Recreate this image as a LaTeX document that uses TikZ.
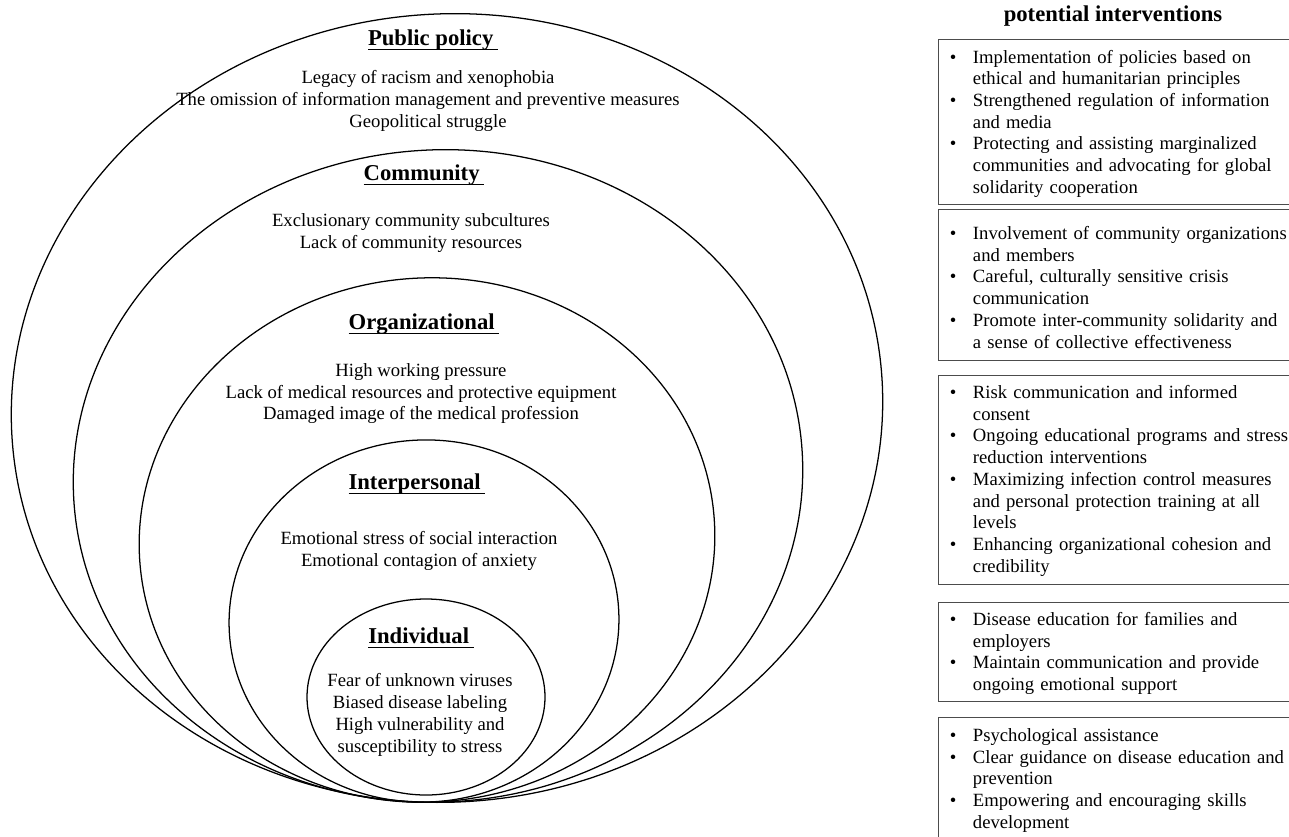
\documentclass[tikz,border=0pt]{standalone}
\usepackage{fontspec}
\setmainfont{Liberation Serif}
\usetikzlibrary{positioning}
\tikzset{
    x=0.75pt, y=-0.75pt,
    ring/.style = {draw, line width=0.95pt},
    head/.style = {font=\fontsize{17}{20}\selectfont\bfseries, inner sep=0pt, anchor=base},
    body/.style = {font=\fontsize{14}{16.4}\selectfont, align=center, inner sep=0pt, anchor=north},
    box/.style = {draw=black!70, line width=1.1pt, minimum width=271.5pt, anchor=north west, inner sep=0pt},
    boxtext/.style = {font=\fontsize{14}{16.3}\selectfont, text width=262pt, align=left, inner sep=0pt, anchor=north west}
}
\newcommand{\lvl}[1]{\setbox0\hbox{#1\hspace{3.5pt}}\rlap{\rule[-3.9pt]{\wd0}{0.95pt}}\box0}
\newcommand{\bitem}[1]{\par\hangindent=17.4pt\hangafter=1\noindent\makebox[17.4pt][l]{\textbullet}#1\par}

\begin{document}
\begin{tikzpicture}
    \useasboundingbox (0,0) rectangle (1289,836);
    \clip (0,0) rectangle (1289,836);

    % nested levels
    \draw[ring, rotate around={5:(447,408)}] (447,408) ellipse [x radius=436, y radius=394];
    \draw[ring, rotate around={5:(438,476)}] (438,476) ellipse [x radius=365, y radius=326];
    \draw[ring, rotate around={5:(427,540)}] (427,540) ellipse [x radius=288, y radius=262];
    \draw[ring, rotate around={4:(424,621)}] (424,621) ellipse [x radius=195, y radius=181];
    \draw[ring] (426,697) ellipse [x radius=119, y radius=98];

    \node[head] (hpol) at (433,45) {\lvl{Public policy}};
    \node[body] (tpol) at (428,70.5) {Legacy of racism and xenophobia\\The omission of information management and preventive measures\\Geopolitical struggle};
    \node[head] (hcom) at (424,180) {\lvl{Community}};
    \node[body] (tcom) at (411,213) {Exclusionary community subcultures\\Lack of community resources};
    \node[head] (horg) at (424,329) {\lvl{Organizational}};
    \node[body] (torg) at (421,363) {High working pressure\\Lack of medical resources and protective equipment\\Damaged image of the medical profession};
    \node[head] (hint) at (417,489) {\lvl{Interpersonal}};
    \node[body] (tint) at (419,531) {Emotional stress of social interaction\\Emotional contagion of anxiety};
    \node[head] (hind) at (421,643) {\lvl{Individual}};
    \node[body] (tind) at (420,673) {Fear of unknown viruses\\Biased disease labeling\\High vulnerability and\\susceptibility to stress};

    % interventions
    \node[head] (htit) at (1113,21) {potential interventions};

    \node[box, minimum height=123.75pt] (b1) at (938,39) {};
    \node[box, minimum height=113.25pt] (b2) at (938,209) {};
    \node[box, minimum height=156.75pt] (b3) at (938,375) {};
    \node[box, minimum height=74.25pt] (b4) at (938,602) {};
    \node[box, minimum height=107.25pt] (b5) at (938,717) {};

    \node[boxtext] (t1) at ([shift={(11.5,2)}]b1.north west) {%
        \bitem{Implementation of policies based on\newline ethical and humanitarian principles}
        \bitem{Strengthened regulation of information\newline and media}
        \bitem{Protecting and assisting marginalized\newline communities and advocating for global\newline solidarity cooperation}};
    \node[boxtext] (t2) at ([shift={(11.5,8.5)}]b2.north west) {%
        \bitem{Involvement of community organizations\newline and members}
        \bitem{Careful, culturally sensitive crisis\newline communication}
        \bitem{Promote inter-community solidarity and\newline a sense of collective effectiveness}};
    \node[boxtext] (t3) at ([shift={(11.5,1.5)}]b3.north west) {%
        \bitem{Risk communication and informed\newline consent}
        \bitem{Ongoing educational programs and stress\newline reduction interventions}
        \bitem{Maximizing infection control measures\newline and personal protection training at all\newline levels}
        \bitem{Enhancing organizational cohesion and\newline credibility}};
    \node[boxtext] (t4) at ([shift={(11.5,1.5)}]b4.north west) {%
        \bitem{Disease education for families and\newline employers}
        \bitem{Maintain communication and provide\newline ongoing emotional support}};
    \node[boxtext] (t5) at ([shift={(11.5,2.5)}]b5.north west) {%
        \bitem{Psychological assistance}
        \bitem{Clear guidance on disease education and\newline prevention}
        \bitem{Empowering and encouraging skills\newline development}};
\end{tikzpicture}
\end{document}
